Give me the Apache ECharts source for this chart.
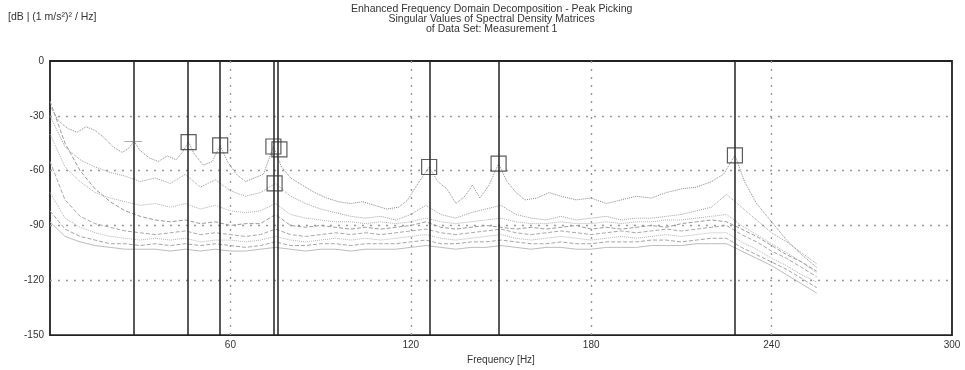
<!DOCTYPE html>
<html>
<head>
<meta charset="utf-8">
<script src="https://cdn.jsdelivr.net/npm/echarts@6/dist/echarts.min.js"></script>
<style>
html,body{margin:0;padding:0;background:#fff;}
#chart{width:965px;height:370px;}
</style>
</head>
<body>
<div id="chart"></div>
<script>
// ---- texts ----
var titleLines = ["Enhanced Frequency Domain Decomposition - Peak Picking",
                  "Singular Values of Spectral Density Matrices",
                  "of Data Set: Measurement 1"];
var yUnit = "[dB | (1 m/s\u00B2)\u00B2 / Hz]";
var xName = "Frequency [Hz]";

// ---- first singular value (own frequency grid, Hz / dB) ----
var sv1Freq = [0.5,3,6,9,12,15,18,21,24,26,28,30,33,36,39,42,44,46.1,48,51,54,56.6,59,62,65,68,71,74.3,77,80,84,88,92,96,100,104,108,112,116,119,122,126.1,129,132,135,138,140.5,143,146,149.2,152,155,158,162,166,170,175,180,185,190,195,200,205,210,215,220,224,227.8,231,235,240,245,250,255];
var sv1 = [-26,-33,-37,-39,-36,-38,-42,-47,-50,-48,-44,-49,-53,-55,-52,-54,-50,-44.4,-51,-57,-55,-46.2,-55,-62,-66,-64,-62,-46.8,-58,-64,-68,-72,-75,-77,-78,-77,-79,-81,-80,-76,-68,-58,-66,-70,-78,-74,-68,-75,-68,-56.2,-66,-72,-76,-75,-72,-74,-76,-75,-78,-76,-74,-75,-72,-70,-69,-66,-62,-51.6,-66,-78,-88,-98,-106,-113];

// ---- remaining singular values (common grid) ----
var freq = [0,5,10,15,20,25,30,35,40,45,50,55,60,65,70,75,80,85,90,95,100,105,110,115,120,125,130,135,140,145,150,155,160,165,170,175,180,185,190,195,200,205,210,215,220,225,230,235,240,245,250,255];
var sv2 = [-30,-47,-54,-58,-61,-63,-66,-64,-67,-62,-69,-65,-71,-74,-72,-67,-74,-78,-81,-83,-85,-86,-85,-87,-84,-79,-84,-86,-83,-81,-79,-84,-86,-87,-85,-87,-86,-85,-87,-86,-86,-85,-84,-82,-80,-73,-80,-87,-94,-99,-105,-111];
var sv3 = [-22,-45,-60,-70,-77,-82,-85,-87,-88,-87,-89,-88,-90,-89,-89,-84,-90,-91,-90,-91,-92,-91,-92,-91,-90,-88,-91,-92,-91,-90,-91,-92,-91,-92,-91,-90,-92,-91,-92,-91,-90,-91,-89,-88,-87,-88,-92,-96,-101,-106,-110,-115];
var sv4 = [-40,-58,-66,-72,-75,-77,-79,-78,-80,-78,-81,-79,-82,-83,-82,-78,-84,-86,-87,-88,-88,-89,-88,-89,-88,-86,-88,-89,-88,-87,-86,-88,-89,-89,-88,-89,-89,-88,-89,-88,-88,-87,-87,-86,-85,-84,-90,-95,-100,-105,-110,-116];
var sv5 = [-55,-76,-85,-89,-91,-93,-94,-95,-94,-93,-95,-94,-95,-96,-95,-92,-95,-96,-95,-94,-95,-94,-95,-94,-93,-92,-94,-95,-94,-93,-92,-94,-95,-94,-93,-94,-95,-94,-93,-94,-93,-92,-93,-92,-91,-90,-95,-99,-104,-108,-113,-118];
var sv6 = [-72,-86,-91,-94,-96,-97,-98,-97,-98,-97,-99,-98,-98,-99,-98,-96,-98,-99,-98,-97,-98,-97,-98,-97,-96,-95,-97,-98,-97,-96,-95,-97,-98,-97,-96,-97,-98,-97,-96,-97,-96,-95,-96,-95,-94,-94,-99,-103,-108,-112,-117,-121];
var sv7 = [-82,-92,-96,-98,-100,-100,-101,-100,-101,-100,-101,-100,-101,-102,-101,-99,-101,-101,-100,-100,-101,-100,-100,-100,-99,-98,-100,-100,-99,-99,-98,-99,-100,-100,-99,-100,-100,-99,-99,-99,-98,-98,-99,-98,-97,-97,-102,-106,-110,-114,-119,-124];
var sv8 = [-88,-96,-99,-101,-102,-103,-103,-103,-104,-103,-104,-103,-104,-104,-103,-102,-103,-104,-103,-103,-104,-103,-103,-103,-102,-101,-102,-103,-102,-102,-101,-102,-103,-102,-102,-103,-103,-102,-102,-102,-101,-101,-101,-100,-100,-100,-104,-108,-112,-117,-122,-127];

// ---- picked peaks ----
var peakLineFreq = [27.7,45.8,56.3,74.3,75.7,126.3,149.3,227.7];
var peakBoxFreq = [46.1,56.6,74.3,74.7,76.3,126.1,149.2,227.8];
var peakBoxDb   = [-44.4,-46.2,-46.8,-67,-48.4,-58,-56.2,-51.6];
var crossFreq = [27.7];
var crossDb = [-44];

// ---- axes / inner grid lines ----
var xMin = 0, xMax = 300, xStep = 60;
var yMin = -150, yMax = 0, yStep = 30;
var xGridTicks = [60,120,180,240];
var yGridTicks = [-30,-60,-90,-120];

function pairs(f, v){ return f.map(function(x,i){ return [x, v[i]]; }); }

var curveStyles = [
  {d: pairs(sv1Freq, sv1), c:'#8a8a8a', t:'dotted'},
  {d: pairs(freq, sv2), c:'#a0a0a0', t:'dotted'},
  {d: pairs(freq, sv3), c:'#9a9a9a', t:'dashed'},
  {d: pairs(freq, sv4), c:'#b0b0b0', t:'dotted'},
  {d: pairs(freq, sv5), c:'#a8a8a8', t:'dashed'},
  {d: pairs(freq, sv6), c:'#b4b4b4', t:'dotted'},
  {d: pairs(freq, sv7), c:'#a4a4a4', t:'dashed'},
  {d: pairs(freq, sv8), c:'#bcbcbc', t:'solid'}
];

var series = [];
// inner dotted grid
series.push({
  type:'line', data:[], silent:true, z:1,
  markLine:{symbol:'none', silent:true, label:{show:false},
    lineStyle:{color:'#999', width:1.4, type:[2,6]},
    data: xGridTicks.map(function(f){ return {xAxis:f}; })
          .concat(yGridTicks.map(function(v){ return {yAxis:v}; }))}
});
curveStyles.forEach(function(s){
  series.push({type:'line', data:s.d, showSymbol:false, symbol:'none', silent:true,
          lineStyle:{color:s.c, width:1, type:s.t}, z:2});
});
series.push({
  type:'line', data:[], silent:true,
  markLine:{symbol:'none', silent:true, label:{show:false},
    lineStyle:{color:'#222', width:1.5, type:'solid'},
    data: peakLineFreq.map(function(f){ return {xAxis:f}; })},
  z:3
});
series.push({
  type:'scatter', data:pairs(peakBoxFreq, peakBoxDb), symbol:'rect', symbolSize:15, silent:true,
  itemStyle:{color:'rgba(0,0,0,0)', borderColor:'#333', borderWidth:1.2}, z:5
});
series.push({
  type:'scatter', data:pairs(crossFreq, crossDb), symbol:'path://M0,4.6h20v0.8h-20z M9.6,0h0.8v10h-0.8z', symbolSize:[18,10], silent:true,
  itemStyle:{color:'#777'}, z:5
});

var chart = echarts.init(document.getElementById('chart'), null, {renderer:'canvas'});
chart.setOption({
  animation:false,
  backgroundColor:'#fff',
  textStyle:{fontFamily:'Liberation Sans'},
  grid:{left:50, top:61, width:902, height:275, show:true, borderColor:'#222', borderWidth:1.8, backgroundColor:'transparent'},
  graphic:[
    {type:'text', left:351, top:4, style:{text:titleLines.join('\n'), textAlign:'center', fill:'#333', font:'10.5px "Liberation Sans"', lineHeight:10}, z:10},
    {type:'text', left:8, top:12, style:{text:yUnit, fill:'#333', font:'10.5px "Liberation Sans"'}, z:10}
  ],
  xAxis:{type:'value', min:xMin, max:xMax, interval:xStep,
    name:xName, nameLocation:'middle', nameGap:16, nameTextStyle:{color:'#333', fontSize:10},
    axisLine:{show:false}, axisTick:{show:false},
    axisLabel:{color:'#333', fontSize:10, margin:5, formatter:function(v){ return v===0 ? '' : String(v); }},
    splitLine:{show:false}},
  yAxis:{type:'value', min:yMin, max:yMax, interval:yStep,
    axisLine:{show:false}, axisTick:{show:false},
    axisLabel:{color:'#333', fontSize:10, margin:6},
    splitLine:{show:false}},
  series:series
});
</script>
</body>
</html>
